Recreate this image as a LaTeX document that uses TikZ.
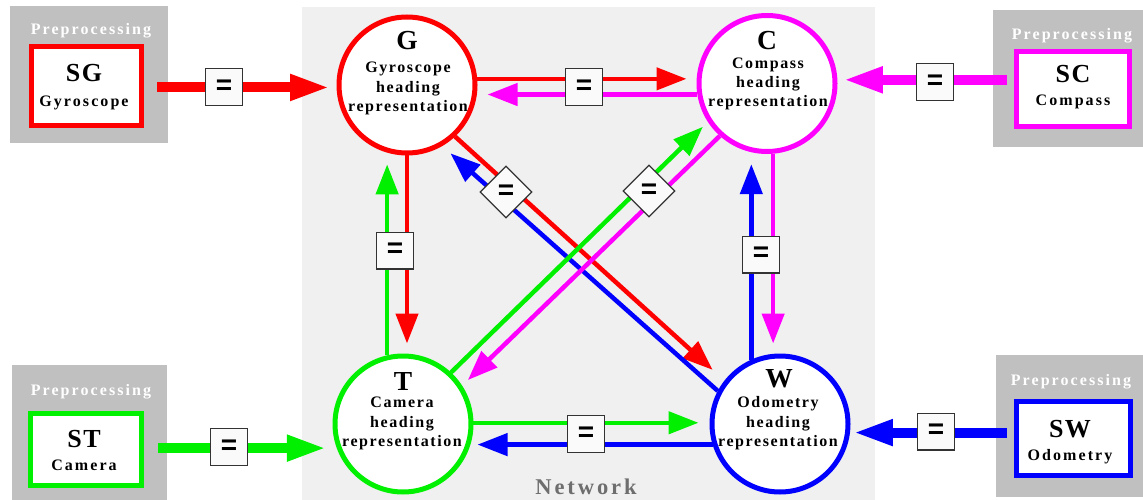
\documentclass[tikz,border=0pt]{standalone}
\usepackage{fontspec}
\setmainfont{Liberation Serif}
\newfontfamily\eqfont{Liberation Sans}
\usetikzlibrary{arrows.meta,shapes.geometric}

\definecolor{netbg}{HTML}{F0F0F0}
\definecolor{prebg}{HTML}{C0C0C0}
\definecolor{gyro}{HTML}{FF0000}
\definecolor{comp}{HTML}{FF00FF}
\definecolor{cam}{HTML}{00F000}
\definecolor{odo}{HTML}{0000FF}
\definecolor{boxline}{HTML}{333333}
\definecolor{eqfill}{HTML}{FAFAFA}
\definecolor{nettext}{HTML}{6E6E6E}

\tikzset{
  sensorbox/.style={draw, line width=5pt, fill=white, inner sep=0pt},
  headcircle/.style={circle, draw, line width=5pt, fill=white, minimum size=136pt, inner sep=0pt},
  eqbox/.style={draw=boxline, line width=1.3pt, fill=eqfill, minimum size=36.7pt, inner sep=0pt,
    font=\eqfont\bfseries\fontsize{28}{28}\selectfont},
  eqdiamond/.style={diamond, aspect=1, draw=boxline, line width=1.3pt, fill=eqfill,
    minimum width=52pt, minimum height=52pt, inner sep=0pt,
    font=\eqfont\bfseries\fontsize{28}{28}\selectfont},
  link/.style={line width=4.5pt, -{Triangle[length=30pt,width=22pt]}},
  feed/.style={line width=10pt, -{Triangle[length=40pt,width=24pt]}},
  bigletter/.style={anchor=base, inner sep=0pt, font=\bfseries\fontsize{27.5}{27.5}\selectfont},
  bodyline/.style={anchor=base, inner sep=0pt,
    font=\bfseries\fontsize{16}{19}\selectfont\addfontfeatures{LetterSpace=10}},
  pretitle/.style={anchor=base, inner sep=0pt, text=white,
    font=\bfseries\fontsize{16}{19}\selectfont\addfontfeatures{LetterSpace=13}},
  sensorname/.style={anchor=base, inner sep=0pt, font=\bfseries\fontsize{26}{26}\selectfont\addfontfeatures{LetterSpace=6}},
  sensorkind/.style={anchor=base, inner sep=0pt,
    font=\bfseries\fontsize{16}{19}\selectfont\addfontfeatures{LetterSpace=13}},
}

\begin{document}
\begin{tikzpicture}[x=1pt, y=-1pt]
\useasboundingbox (0,0) rectangle (1143,500);

% network area and preprocessing panels
\fill[netbg] (302,7) rectangle (875,500);
\fill[prebg] (10,6) rectangle (168,143);
\fill[prebg] (993,10) rectangle (1143,147);
\fill[prebg] (12,365) rectangle (167,500);
\fill[prebg] (996,355) rectangle (1143,497);

\node[pretitle] (preSG) at (91,35) {Preprocessing};
\node[pretitle] (preSC) at (1072,40) {Preprocessing};
\node[pretitle] (preST) at (91,395) {Preprocessing};
\node[pretitle] (preSW) at (1071,385) {Preprocessing};

\node[text=nettext, anchor=base, inner sep=0pt,
  font=\bfseries\fontsize{22.5}{22.5}\selectfont\addfontfeatures{LetterSpace=13}] (net) at (586,494) {Network};

% sensor boxes
\node[sensorbox, draw=gyro, minimum width=110pt, minimum height=79pt] (SG) at (86.5,86) {};
\node[sensorbox, draw=comp, minimum width=113pt, minimum height=75pt] (SC) at (1073,89) {};
\node[sensorbox, draw=cam,  minimum width=111pt, minimum height=72pt] (ST) at (86,449.5) {};
\node[sensorbox, draw=odo,  minimum width=114pt, minimum height=74pt] (SW) at (1073.5,438.5) {};

\node[sensorname] (SGn) at (84,82) {SG};
\node[sensorkind] (SGk) at (84,107) {Gyroscope};
\node[sensorname] (SCn) at (1073,82.5) {SC};
\node[sensorkind] (SCk) at (1073,106) {Compass};
\node[sensorname] (STn) at (84,447) {ST};
\node[sensorkind] (STk) at (84,470) {Camera};
\node[sensorname] (SWn) at (1070,437) {SW};
\node[sensorkind] (SWk) at (1070,460) {Odometry};

% heading representations
\node[headcircle, draw=gyro] (G) at (407,85) {};
\node[headcircle, draw=comp] (C) at (767,83.5) {};
\node[headcircle, draw=cam]  (T) at (403,424) {};
\node[headcircle, draw=odo]  (W) at (780,424) {};

\node[bigletter] (Gl) at (407,50) {G};
\node[bodyline] (G1) at (408,73) {Gyroscope};
\node[bodyline] (G2) at (408,93) {heading};
\node[bodyline] (G3) at (408,112) {representation};

\node[bigletter] (Cl) at (767,50) {C};
\node[bodyline] (C1) at (768,68.5) {Compass};
\node[bodyline] (C2) at (768,87.5) {heading};
\node[bodyline] (C3) at (768,106.5) {representation};

\node[bigletter] (Tl) at (403,390.5) {T};
\node[bodyline] (T1) at (402,407.5) {Camera};
\node[bodyline] (T2) at (402,427) {heading};
\node[bodyline] (T3) at (402,446) {representation};

\node[bigletter] (Wl) at (779,387) {W};
\node[bodyline] (W1) at (778,407) {Odometry};
\node[bodyline] (W2) at (778,427) {heading};
\node[bodyline] (W3) at (778,446) {representation};

% sensor inputs
\draw[feed, gyro, shorten <=13pt, shorten >=6.5pt] (SG.east |- G.182) -- (G.182);
\draw[feed, comp, shorten <=7pt, shorten >=5.5pt] (SC.west |- C.3) -- (C.3);
\draw[feed, cam,  shorten <=14pt, shorten >=10pt] (ST.east |- T.200) -- (T.200);
\draw[feed, odo,  shorten <=7pt, shorten >=3pt] (SW.west |- W.-7) -- (W.-7);

% G <-> C
\draw[link, gyro, shorten >=10pt] (G.5) -- (G.5 -| C.west);
\draw[link, comp, shorten >=10pt] (C.189) -- (C.189 -| G.east);
% G <-> T
\draw[link, gyro, shorten >=10pt] (G.south) -- (G.south |- T.north);
\draw[link, cam,  shorten >=12pt] (T.103) -- (T.103 |- G.-107);
% C <-> W
\draw[link, comp, shorten >=10pt] (C.-85) -- (C.-85 |- W.north);
\draw[link, odo,  shorten >=12pt] (W.114) -- (W.114 |- C.-103);
% T <-> W
\draw[link, cam, shorten >=11pt] (T.1) -- (T.1 -| W.west);
\draw[link, odo, shorten >=4pt] (W.197) -- (W.197 -| T.east);
% diagonals
\draw[link, gyro, shorten >=16pt] (G.-47) -- (W.142);
\draw[link, odo,  shorten >=11pt] (W.152) -- (G.-60);
\draw[link, cam,  shorten >=7pt] (T.47) -- (C.213);
\draw[link, comp, shorten >=8pt] (C.228) -- (T.33);

% equality markers
\node[eqbox] (eqSG) at (224,87) {=};
\node[eqbox] (eqSC) at (935,82) {=};
\node[eqbox] (eqST) at (229,447) {=};
\node[eqbox] (eqSW) at (936,431.5) {=};
\node[eqbox] (eqGC) at (584,87) {=};
\node[eqbox] (eqTW) at (586,434) {=};
\node[eqbox] (eqGT) at (395,250.5) {=};
\node[eqbox] (eqCW) at (761,254.5) {=};
\node[eqdiamond] (eqGW) at (506,192) {=};
\node[eqdiamond] (eqTC) at (649,191) {=};
\end{tikzpicture}
\end{document}
